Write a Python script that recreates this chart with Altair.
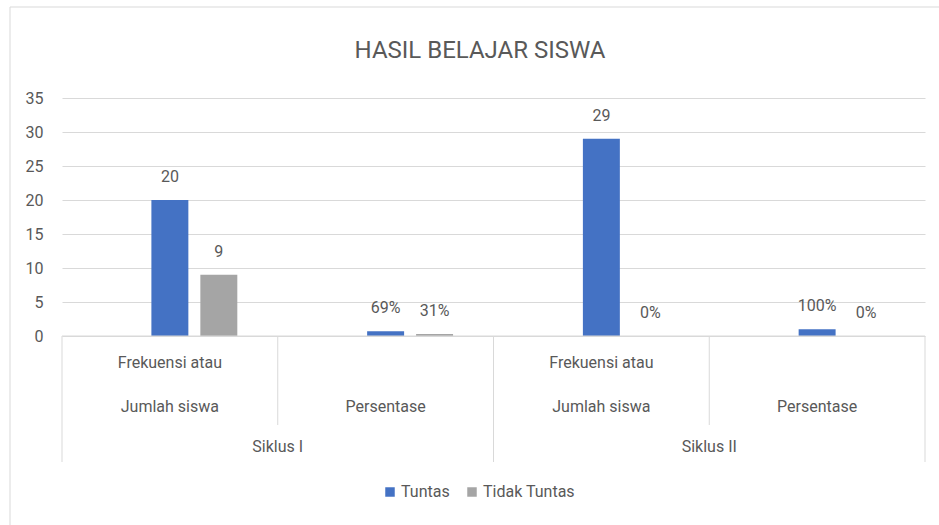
import altair as alt
import pandas as pd

# ---- data ----
cat_ids = ["I-F", "I-P", "II-F", "II-P"]
siklus = ["Siklus I", "Siklus I", "Siklus II", "Siklus II"]
line1 = ["Frekuensi atau", "", "Frekuensi atau", ""]
line2 = ["Jumlah siswa", "Persentase", "Jumlah siswa", "Persentase"]
tuntas = [20, 0.69, 29, 1.00]
tidak_tuntas = [9, 0.31, 0, 0]
label_tuntas = ["20", "69%", "29", "100%"]
label_tidak = ["9", "31%", "0%", "0%"]
series = ["Tuntas", "Tidak Tuntas"]
colors = ["#4472C4", "#A5A5A5"]
y_ticks = [0, 5, 10, 15, 20, 25, 30, 35]
title_text = ["HASIL BELAJAR SISWA"]

FONT = "Roboto, Liberation Sans, sans-serif"
TXT = "#595959"
GRID = "#D9D9D9"

rows = []
for i, c in enumerate(cat_ids):
    rows.append({"cat": c, "series": "Tuntas", "value": tuntas[i], "label": label_tuntas[i]})
    rows.append({"cat": c, "series": "Tidak Tuntas", "value": tidak_tuntas[i], "label": label_tidak[i]})
df = pd.DataFrame(rows)

cats = pd.DataFrame({"cat": cat_ids, "siklus": siklus, "l1": line1, "l2": line2})

W, H = 863, 238

xscale = alt.Scale(domain=cat_ids, paddingInner=0, paddingOuter=0)
xenc = alt.X("cat:N", scale=xscale, axis=None)
yscale = alt.Scale(domain=[0, 35], nice=False)
yaxis = alt.Axis(values=y_ticks, title=None, domain=False, ticks=False, labelOverlap=False,
                 labelPadding=19, labelFontSize=16, labelColor=TXT, labelFont=FONT,
                 gridColor=GRID, gridWidth=1)
yenc = alt.Y("value:Q", scale=yscale, axis=yaxis)
xoff = alt.XOffset("series:N", scale=alt.Scale(domain=["_blank", "Tuntas", "Tidak Tuntas"],
                                                paddingInner=0.245, paddingOuter=0.826))

base = alt.Chart(df)

border = alt.Chart(pd.DataFrame({"k": [0]})).mark_rect(fillOpacity=0, stroke=GRID, strokeWidth=1).encode(
    x=alt.value(-52), x2=alt.value(900), y=alt.value(-91), y2=alt.value(450)
)

title = alt.Chart(pd.DataFrame({"t": title_text})).mark_text(
    baseline="alphabetic", align="center", fontSize=24, font=FONT, color=TXT).encode(
    x=alt.value(418), y=alt.value(-40), text="t:N"
)

bars = base.mark_bar().encode(
    x=xenc,
    xOffset=xoff,
    y=yenc,
    color=alt.Color("series:N", scale=alt.Scale(domain=series, range=colors),
                    legend=alt.Legend(title=None, orient="none", direction="horizontal",
                                      legendX=320, legendY=386, symbolType="square", symbolSize=90,
                                      symbolStrokeWidth=0, labelFontSize=16, labelColor=TXT, labelFont=FONT,
                                      columnPadding=14, labelOffset=3)),
)

value_labels = base.mark_text(baseline="middle", dy=-23, fontSize=16, color=TXT, font=FONT).encode(
    x=xenc,
    xOffset=xoff,
    y=yenc,
    text="label:N",
)

zero = alt.Chart(pd.DataFrame({"k": [0]})).mark_rule(color=GRID, strokeWidth=1).encode(
    y=alt.value(H), x=alt.value(0), x2=alt.value(W)
)

cats_c = alt.Chart(cats)

short_sep = cats_c.transform_filter("datum.cat == 'I-P' || datum.cat == 'II-P'").mark_rule(
    color=GRID, strokeWidth=1).encode(
    x=alt.X("cat:N", scale=xscale, bandPosition=0, axis=None),
    y=alt.value(H), y2=alt.value(H + 89),
)

long_sep = cats_c.transform_filter("datum.cat == 'I-F' || datum.cat == 'II-F'").mark_rule(
    color=GRID, strokeWidth=1).encode(
    x=alt.X("cat:N", scale=xscale, bandPosition=0, axis=None),
    y=alt.value(H), y2=alt.value(H + 126),
)

end_sep = cats_c.transform_filter("datum.cat == 'II-P'").mark_rule(
    color=GRID, strokeWidth=1).encode(
    x=alt.X("cat:N", scale=xscale, bandPosition=1, axis=None),
    y=alt.value(H), y2=alt.value(H + 126),
)

lab1 = cats_c.mark_text(baseline="middle", fontSize=16, color=TXT, font=FONT).encode(
    x=alt.X("cat:N", scale=xscale, bandPosition=0.5, axis=None), y=alt.value(H + 27), text="l1:N"
)
lab2 = cats_c.mark_text(baseline="middle", fontSize=16, color=TXT, font=FONT).encode(
    x=alt.X("cat:N", scale=xscale, bandPosition=0.5, axis=None), y=alt.value(H + 71), text="l2:N"
)
lab_s = cats_c.transform_filter("datum.l1 == ''").mark_text(
    baseline="middle", fontSize=16, color=TXT, font=FONT).encode(
    x=alt.X("cat:N", scale=xscale, bandPosition=0, axis=None), y=alt.value(H + 111), text="siklus:N"
)

chart = alt.layer(border, title, bars, value_labels, zero, short_sep, long_sep, end_sep, lab1, lab2, lab_s).properties(
    width=W, height=H,
    autosize=alt.AutoSizeParams(type="none"),
    padding={"left": 62, "top": 98, "right": 14, "bottom": 189},
    background="white",
).configure_view(stroke=None)

chart.save("out.html", embed_options={"renderer": "svg", "actions": False})
